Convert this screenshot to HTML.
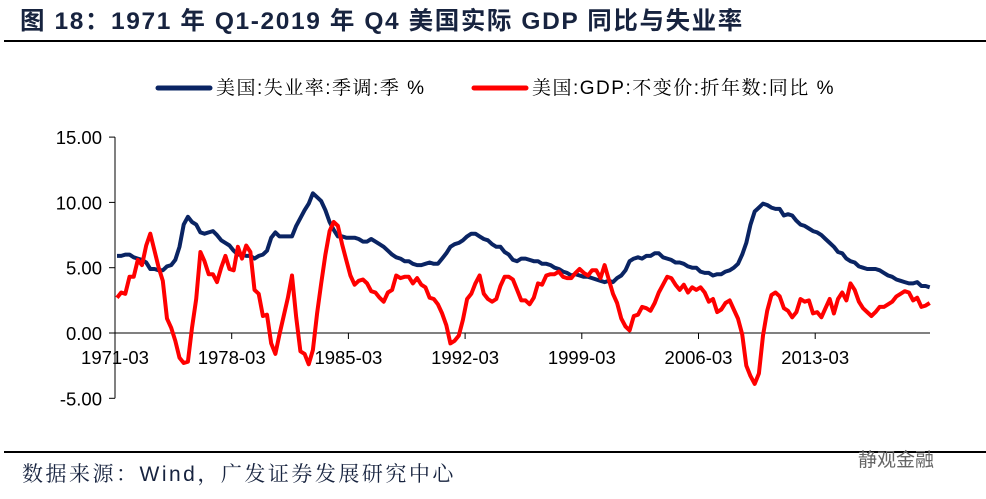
<!DOCTYPE html>
<html><head><meta charset="utf-8">
<style>
body{margin:0;background:#fff;}
#wrap{position:relative;width:986px;height:499px;overflow:hidden;font-family:"Liberation Sans","Noto Sans CJK SC",sans-serif;}
</style></head>
<body>
<div id="wrap">
<svg width="986" height="499" id="svg">
<text x="20" y="29" font-size="24.5" font-weight="bold" letter-spacing="1.6" fill="#17233f" font-family="Liberation Sans,Noto Sans CJK SC,sans-serif">图 18：1971 年 Q1-2019 年 Q4 美国实际 GDP 同比与失业率</text>
<line x1="4" y1="41" x2="986" y2="41" stroke="#000" stroke-width="2"/>
<line x1="158" y1="88" x2="210" y2="88" stroke="#0a2463" stroke-width="5" stroke-linecap="round"/>
<text x="216" y="94" font-size="19" letter-spacing="1.5" font-family="Liberation Sans,Noto Serif CJK SC,serif">美国:失业率:季调:季 %</text>
<line x1="474" y1="88" x2="526" y2="88" stroke="#ff0000" stroke-width="5" stroke-linecap="round"/>
<text x="532" y="94" font-size="19" letter-spacing="1.5" font-family="Liberation Sans,Noto Serif CJK SC,serif">美国:GDP:不变价:折年数:同比 %</text>
<g id="axes"></g>
<g id="series"></g>
<line x1="4" y1="452" x2="986" y2="452" stroke="#000" stroke-width="2"/>
<text x="22" y="481" font-size="21" letter-spacing="2.5" fill="#17233f" font-family="Liberation Sans,Noto Serif CJK SC,serif">数据来源：Wind，广发证券发展研究中心</text>
<text x="858" y="466" font-size="19" fill="#666" font-family="Liberation Sans,Noto Sans CJK SC,sans-serif">静观金融</text>
</svg>
</div>
<script>
const yTicks=[15,10,5,0,-5];
const yTickLabels=["15.00","10.00","5.00","0.00","-5.00"];
const xTickLabels=["1971-03","1978-03","1985-03","1992-03","1999-03","2006-03","2013-03"];
const unemployment=[5.9,5.9,6.0,6.0,5.8,5.7,5.6,5.4,4.9,4.9,4.8,4.8,5.1,5.2,5.6,6.6,8.3,8.9,8.5,8.3,7.7,7.6,7.7,7.8,7.5,7.1,6.9,6.7,6.3,6.0,6.0,5.9,5.9,5.7,5.9,6.0,6.3,7.3,7.7,7.4,7.4,7.4,7.4,8.2,8.8,9.4,9.9,10.7,10.4,10.1,9.4,8.5,7.9,7.4,7.4,7.3,7.3,7.3,7.2,7.0,7.0,7.2,7.0,6.8,6.6,6.3,6.0,5.8,5.7,5.5,5.5,5.3,5.2,5.2,5.3,5.4,5.3,5.3,5.7,6.1,6.6,6.8,6.9,7.1,7.4,7.6,7.6,7.4,7.2,7.1,6.8,6.6,6.6,6.2,6.0,5.6,5.5,5.7,5.7,5.6,5.5,5.5,5.3,5.3,5.2,5.0,4.9,4.7,4.6,4.4,4.5,4.4,4.3,4.3,4.2,4.1,4.0,3.9,4.0,3.9,4.2,4.4,4.8,5.5,5.7,5.8,5.7,5.9,5.9,6.1,6.1,5.8,5.7,5.6,5.4,5.4,5.3,5.1,5.0,5.0,4.7,4.6,4.6,4.4,4.5,4.5,4.7,4.8,5.0,5.3,6.0,6.9,8.3,9.3,9.6,9.9,9.8,9.6,9.5,9.5,9.0,9.1,9.0,8.6,8.3,8.2,8.0,7.8,7.7,7.5,7.2,6.9,6.6,6.2,6.1,5.7,5.5,5.4,5.1,5.0,4.9,4.9,4.9,4.8,4.6,4.4,4.3,4.1,4.0,3.9,3.8,3.8,3.9,3.6,3.6,3.5];
const gdpYoY=[2.7,3.1,3.0,4.3,4.3,5.6,5.2,6.7,7.6,6.3,5.0,4.0,1.1,0.4,-0.6,-1.9,-2.3,-2.2,0.4,2.6,6.2,5.5,4.5,4.5,3.9,5.0,5.9,4.9,4.8,6.6,5.7,6.7,6.2,3.3,3.0,1.3,1.4,-0.8,-1.6,-0.1,1.3,2.7,4.4,1.2,-1.4,-1.6,-2.4,-1.3,1.5,3.8,6.0,7.8,8.5,8.2,6.8,5.6,4.4,3.7,4.0,4.1,3.8,3.2,3.1,2.7,2.4,3.1,3.3,4.4,4.2,4.3,4.3,3.8,4.2,3.7,3.5,2.7,2.6,2.2,1.5,0.6,-0.8,-0.6,-0.2,1.0,2.6,3.0,3.8,4.4,3.0,2.6,2.4,2.6,3.6,4.3,4.3,4.1,3.3,2.5,2.5,2.2,2.7,3.8,3.7,4.4,4.5,4.5,4.7,4.3,4.2,4.2,4.6,4.9,4.6,4.4,4.8,4.8,4.2,5.2,4.1,3.0,2.3,1.1,0.5,0.2,1.3,1.4,2.0,1.9,1.7,2.3,3.1,3.7,4.3,4.2,3.7,3.3,3.7,3.1,3.5,3.3,3.5,3.1,2.4,2.6,1.6,1.8,2.3,2.5,1.8,1.1,-0.1,-2.5,-3.3,-3.9,-3.1,-0.2,1.7,2.9,3.1,2.8,1.9,1.7,1.2,1.6,2.6,2.4,2.5,1.5,1.6,1.2,1.9,2.6,1.5,2.6,3.1,2.5,3.8,3.3,2.4,1.9,1.6,1.3,1.6,2.0,2.0,2.2,2.4,2.8,3.0,3.2,3.1,2.5,2.7,2.0,2.1,2.3];

const NS="http://www.w3.org/2000/svg";
const X0=115, X1=930, Y0=333, PX5=65.3;
const quarterW=116.7/28;
function yScale(v){return Y0 - v*PX5/5;}
function xScale(i){return X0 + 2 + i*quarterW;}
const axes=document.getElementById('axes'), series=document.getElementById('series');
function mk(tag,attrs,parent){const e=document.createElementNS(NS,tag);for(const k in attrs)e.setAttribute(k,attrs[k]);parent.appendChild(e);return e;}

const ya=mk('line',{x1:X0,y1:yScale(15),x2:X0,y2:yScale(-5),stroke:'#000','stroke-width':1},axes);


yTicks.forEach((v,i)=>{
  const t=mk('line',{x1:X0-6,y1:yScale(v),x2:X0,y2:yScale(v),stroke:'#000'},axes);
  
  
  const l=mk('text',{x:X0-13,y:yScale(v)+7,'font-size':18.5,'text-anchor':'end'},axes);
  l.textContent=yTickLabels[i];
  
  
});
const xa=mk('line',{x1:X0,y1:Y0,x2:X1,y2:Y0,stroke:'#000','stroke-width':1},axes);


xTickLabels.forEach((s,i)=>{
  const x=X0+i*116.7;
  const t=mk('line',{x1:x,y1:Y0,x2:x,y2:Y0+6,stroke:'#000'},axes);
  
  
  const l=mk('text',{x:x,y:Y0+31,'font-size':18.5,'text-anchor':'middle'},axes);
  l.textContent=s;
  
  
});
function line(arr,color,name){
  const d=arr.map((v,i)=>(i?'L':'M')+xScale(i).toFixed(1)+','+yScale(v).toFixed(1)).join('');
  const p=mk('path',{d:d,fill:'none',stroke:color,'stroke-width':4,'stroke-linejoin':'round'},series);
  
  
}
line(unemployment,'#0a2463','unemployment-line');
line(gdpYoY,'#ff0000','gdp-yoy-line');
</script>
</body></html>
